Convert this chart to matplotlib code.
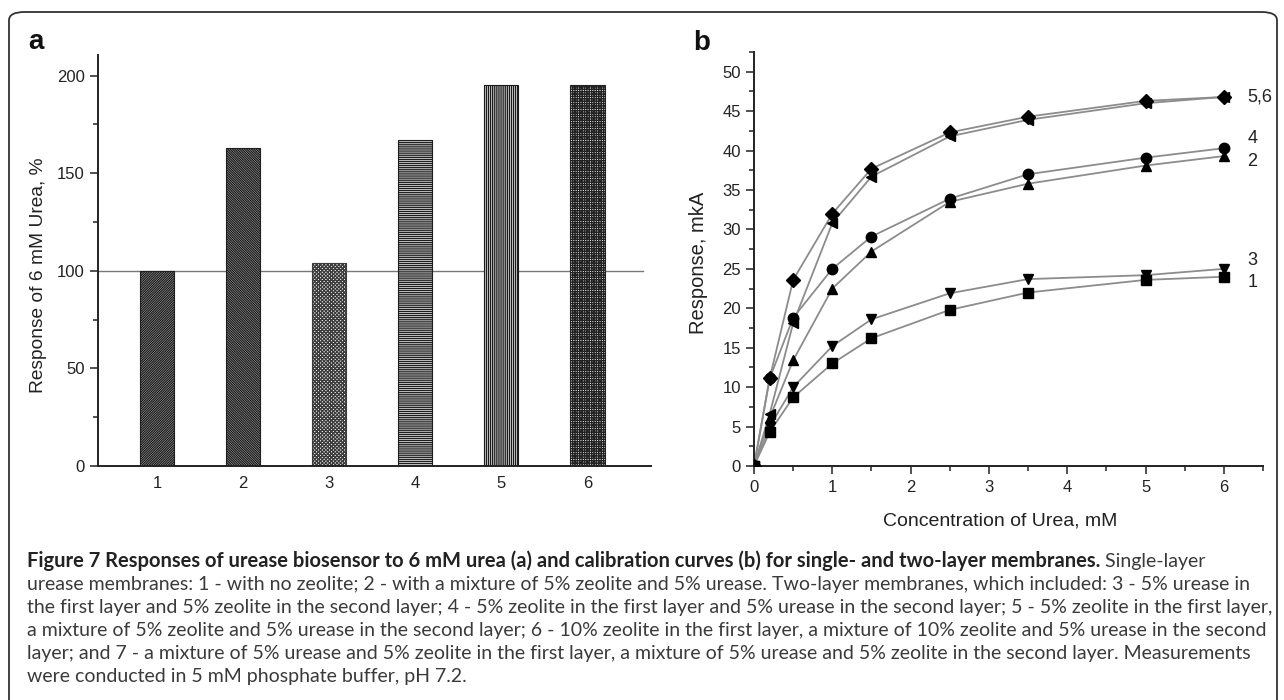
#!/usr/bin/env python
import numpy as np
import matplotlib
matplotlib.use('agg')
from matplotlib import pyplot as plt
from matplotlib.patches import FancyBboxPatch
from matplotlib.ticker import MultipleLocator

plt.close('all')
plt.rcParams['font.family'] = ['Liberation Sans', 'DejaVu Sans']
plt.rcParams['hatch.linewidth'] = 1.0

# panel a: response to 6 mM urea, %
membranes = ['1', '2', '3', '4', '5', '6']
response_pct = [100, 163, 104, 167, 195, 195]
hatches = ['/' * 14, '\\' * 14, 'x' * 9, '-' * 8, '|' * 8, '+' * 7]

# panel b: calibration curves
conc = [0, 0.2, 0.5, 1, 1.5, 2.5, 3.5, 5, 6]
curve_1 = [0, 4.3, 8.7, 13.0, 16.2, 19.8, 22.0, 23.6, 24.0]
curve_3 = [0, 5.0, 10.0, 15.2, 18.6, 21.9, 23.7, 24.2, 25.0]
curve_2 = [0, 6.1, 13.4, 22.5, 27.2, 33.5, 35.8, 38.1, 39.3]
curve_4 = [0, 11.1, 18.8, 25.0, 29.1, 33.9, 37.0, 39.1, 40.3]
curve_5 = [0, 11.1, 23.6, 32.0, 37.7, 42.3, 44.3, 46.3, 46.8]
curve_6 = [0, 6.6, 18.1, 30.8, 36.7, 41.8, 43.9, 46.0, 46.8]

caption_bold = ("Figure 7 Responses of urease biosensor to 6 mM urea (a) and calibration "
                "curves (b) for single- and two-layer membranes.")
caption_lines = [
    " Single-layer",
    "urease membranes: 1 - with no zeolite; 2 - with a mixture of 5% zeolite and 5% urease. "
    "Two-layer membranes, which included: 3 - 5% urease in",
    "the first layer and 5% zeolite in the second layer; 4 - 5% zeolite in the first layer "
    "and 5% urease in the second layer; 5 - 5% zeolite in the first layer,",
    "a mixture of 5% zeolite and 5% urease in the second layer; 6 - 10% zeolite in the first "
    "layer, a mixture of 10% zeolite and 5% urease in the second",
    "layer; and 7 - a mixture of 5% urease and 5% zeolite in the first layer, a mixture of 5% "
    "urease and 5% zeolite in the second layer. Measurements",
    "were conducted in 5 mM phosphate buffer, pH 7.2.",
]

W, H = 1284, 700
fig = plt.figure(figsize=(W / 100, H / 100), dpi=100)

# rounded frame around the figure
frame = FancyBboxPatch((9 / W, -20 / H), 1268 / W, 708 / H,
                       boxstyle="round,pad=0,rounding_size=0.012",
                       transform=fig.transFigure, fill=False,
                       edgecolor='#333333', linewidth=1.3)
fig.patches.append(frame)


def style_axes(ax):
    for side in ['top', 'right']:
        ax.spines[side].set_visible(False)
    for side in ['left', 'bottom']:
        ax.spines[side].set_linewidth(1.4)
        ax.spines[side].set_color('#222222')
    ax.tick_params(which='major', direction='out', length=6, width=1.1,
                   labelsize=12, colors='#222222')
    ax.tick_params(which='minor', direction='out', length=3.5, width=1.1,
                   colors='#222222')


# ---- panel a
ax1 = fig.add_axes([98 / W, 1 - 466 / H, 553 / W, 411 / H])
xpos = np.arange(1, len(membranes) + 1)
edge_cols = ['#1e1e1e', '#1e1e1e', '#3c3c3c', '#1e1e1e', '#1a1a1a', '#222222']
for i in range(len(membranes)):
    ax1.bar(xpos[i], response_pct[i], width=0.4, color='white',
            edgecolor=edge_cols[i], hatch=hatches[i], linewidth=0.8)
ax1.axhline(100, xmax=0.985, color='#777777', linewidth=1.0, zorder=0)
ax1.set_xlim(0.314, 6.74)
ax1.set_ylim(0, 210.5)
ax1.set_xticks(xpos)
ax1.set_xticklabels(membranes)
ax1.set_yticks([0, 50, 100, 150, 200])
ax1.yaxis.set_minor_locator(MultipleLocator(25))
style_axes(ax1)
ax1.tick_params(axis='x', which='both', length=0, pad=7)
ax1.set_ylabel('Response of 6 mM Urea, %', fontsize=13.8, color='#222222')
ax1.yaxis.set_label_coords(-0.092, 0.465)

# ---- panel b
ax2 = fig.add_axes([754 / W, 1 - 466 / H, 509 / W, 414 / H])
curves = [curve_1, curve_3, curve_2, curve_4, curve_5, curve_6]
markers = ['s', 'v', '^', 'o', 'D', '<']
sizes = [6.5, 7.5, 7.5, 7.5, 7.5, 7.5]
for ys in curves:
    ax2.plot(conc, ys, color='#8c8c8c', linewidth=1.3, zorder=2)
for ys, m, s in zip(curves, markers, sizes):
    ax2.plot(conc, ys, linestyle='none', marker=m, markersize=s,
             color='black', zorder=3)

# curve numbers at the right end
curve_labels = ['1', '3', '2', '4', '5,6']
label_curves = [curve_1, curve_3, curve_2, curve_4, curve_5]
label_dy = [-4, 6, -4, 7, 0]
for txt, ys, dy in zip(curve_labels, label_curves, label_dy):
    ax2.annotate(txt, xy=(conc[-1], ys[-1]), xytext=(17, dy),
                 textcoords='offset points', ha='left', va='center',
                 fontsize=13, color='#222222', annotation_clip=False)

ax2.set_xlim(0, 6.5)
ax2.set_ylim(0, 52.5)
ax2.set_xticks(range(0, 7))
ax2.set_yticks(range(0, 51, 5))
ax2.xaxis.set_minor_locator(MultipleLocator(0.5))
ax2.yaxis.set_minor_locator(MultipleLocator(2.5))
style_axes(ax2)
ax2.tick_params(axis='x', pad=4)
ax2.set_xlabel('Concentration of Urea, mM', fontsize=14, color='#222222')
ax2.xaxis.set_label_coords(0.483, -0.113)
ax2.set_ylabel('Response, mkA', fontsize=14.5, color='#222222')
ax2.yaxis.set_label_coords(-0.09, 0.49)

# panel letters
fig.text(28 / W, 1 - 49 / H, 'a', fontsize=20, fontweight='bold', color='#111111')
fig.text(693 / W, 1 - 50 / H, 'b', fontsize=20, fontweight='bold', color='#111111')

# caption
cap_font = ['Lato', 'DejaVu Sans']
cap_size = 14
baselines = [567, 590, 613, 636, 659, 682]
t0 = fig.text(27 / W, 1 - baselines[0] / H, caption_bold, fontsize=14.5,
              fontweight='bold', family=cap_font, color='#222222', va='baseline')
fig.canvas.draw()
bb = t0.get_window_extent(renderer=fig.canvas.get_renderer())
fig.text(bb.x1 / W, 1 - baselines[0] / H, caption_lines[0], fontsize=cap_size,
         family=cap_font, color='#3a3a3a', va='baseline')
for line, yb in zip(caption_lines[1:], baselines[1:]):
    fig.text(27 / W, 1 - yb / H, line, fontsize=cap_size, family=cap_font,
             color='#3a3a3a', va='baseline')

fig.savefig('out.png', dpi=100)
